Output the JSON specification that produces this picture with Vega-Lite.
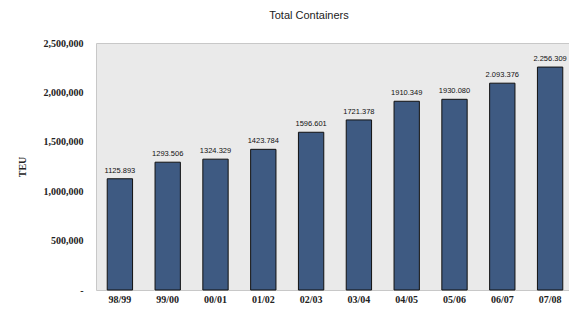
{
  "$schema": "https://vega.github.io/schema/vega-lite/v6.json",
  "autosize": "none",
  "padding": {"left": 96, "top": 43, "right": 0, "bottom": 22},
  "width": 478,
  "height": 247,
  "background": "white",
  "title": {
    "text": "Total Containers",
    "font": "Liberation Sans",
    "fontSize": 11,
    "fontWeight": "normal",
    "color": "#222222",
    "anchor": "middle",
    "dx": -26,
    "offset": 6,
    "baseline": "bottom"
  },
  "config": {
    "view": {"fill": "#EAEAEA", "stroke": "#C8C8C8", "strokeWidth": 1}
  },
  "data": {
    "values": [
      {"year": "98/99", "teu": 1125893, "label": "1125.893"},
      {"year": "99/00", "teu": 1293506, "label": "1293.506"},
      {"year": "00/01", "teu": 1324329, "label": "1324.329"},
      {"year": "01/02", "teu": 1423784, "label": "1423.784"},
      {"year": "02/03", "teu": 1596601, "label": "1596.601"},
      {"year": "03/04", "teu": 1721378, "label": "1721.378"},
      {"year": "04/05", "teu": 1910349, "label": "1910.349"},
      {"year": "05/06", "teu": 1930080, "label": "1930.080"},
      {"year": "06/07", "teu": 2093376, "label": "2.093.376"},
      {"year": "07/08", "teu": 2256309, "label": "2.256.309"}
    ]
  },
  "encoding": {
    "x": {
      "field": "year",
      "type": "nominal",
      "sort": null,
      "scale": {"paddingInner": 0.47, "paddingOuter": 0.235},
      "axis": {
        "title": null,
        "labelAngle": 0,
        "ticks": false,
        "domain": false,
        "labelFont": "Liberation Serif",
        "labelFontSize": 10,
        "labelFontWeight": "bold",
        "labelColor": "#222222",
        "labelPadding": 4
      }
    },
    "y": {
      "field": "teu",
      "type": "quantitative",
      "scale": {"domain": [0, 2500000]},
      "axis": {
        "title": "TEU",
        "titleFont": "Liberation Serif",
        "titleFontSize": 10,
        "titleFontWeight": "bold",
        "titleColor": "#222222",
        "titlePadding": 16,
        "values": [0, 500000, 1000000, 1500000, 2000000, 2500000],
        "labelExpr": "datum.value == 0 ? '-' : format(datum.value, ',')",
        "grid": false,
        "ticks": false,
        "domain": false,
        "labelFont": "Liberation Serif",
        "labelFontSize": 10,
        "labelFontWeight": "bold",
        "labelColor": "#222222",
        "labelPadding": 13
      }
    }
  },
  "layer": [
    {
      "mark": {"type": "bar", "fill": "#3E5A82", "stroke": "#111111", "strokeWidth": 1}
    },
    {
      "mark": {
        "type": "text",
        "baseline": "alphabetic",
        "dy": -6,
        "font": "Liberation Sans",
        "fontSize": 7.5,
        "color": "#111111"
      },
      "encoding": {"text": {"field": "label"}}
    }
  ]
}
